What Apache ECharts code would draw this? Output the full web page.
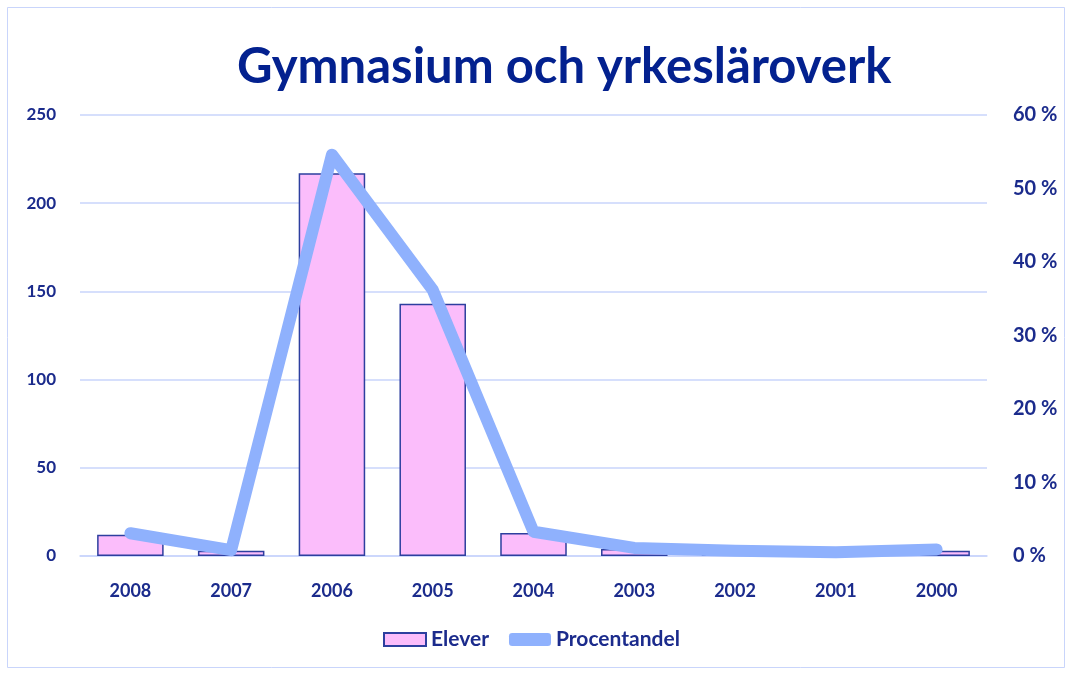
<!DOCTYPE html>
<html>
<head>
<meta charset="utf-8">
<script src="https://cdn.jsdelivr.net/npm/echarts@6/dist/echarts.min.js"></script>
<style>
  html, body { margin: 0; padding: 0; background: #fff; }
  #chart { width: 1073px; height: 673px; }
</style>
</head>
<body>
<div id="chart"></div>
<script>
// Data
const years = ['2008', '2007', '2006', '2005', '2004', '2003', '2002', '2001', '2000']
const elever = [12, 3, 217, 143, 13, 4, 2, 2, 3]
const procentandel = [3.1, 0.8, 54.6, 36.2, 3.3, 1.1, 0.7, 0.5, 0.9]

const navy = '#1b2b8c'
const font = 'Lato'

const chart = echarts.init(document.getElementById('chart'))

chart.setOption({
  backgroundColor: '#fff',
  animation: false,
  textStyle: { fontFamily: font },
  graphic: [{
    type: 'rect',
    shape: { x: 7.5, y: 7.5, width: 1057, height: 660 },
    style: { fill: 'none', stroke: '#c9d5fb', lineWidth: 1 }
  }],
  title: {
    text: 'Gymnasium och yrkesläroverk',
    left: 232, top: 38,
    textStyle: { color: '#03218f', fontSize: 49, fontWeight: 'bold', fontFamily: font }
  },
  legend: {
    bottom: 18, left: 378, itemGap: 20, itemWidth: 42, itemHeight: 13,
    textStyle: { color: navy, fontSize: 21, fontWeight: 'bold', fontFamily: font },
    data: [
      { name: 'Elever', icon: 'rect' },
      { name: 'Procentandel', icon: 'roundRect' }
    ]
  },
  grid: { left: 80, right: 86, top: 115, bottom: 117 },
  xAxis: {
    type: 'category', data: years,
    axisLine: { lineStyle: { color: '#c9d5fb', width: 1.5 } },
    axisTick: { show: false },
    axisLabel: { color: navy, fontSize: 18, fontWeight: 'bold', margin: 26 }
  },
  yAxis: [
    {
      type: 'value', min: 0, max: 250, interval: 50,
      axisLine: { show: false }, axisTick: { show: false },
      axisLabel: { color: navy, fontSize: 17, fontWeight: 'bold', margin: 24 },
      splitLine: { lineStyle: { color: '#c9d5fb', width: 1.5 } }
    },
    {
      type: 'value', min: 0, max: 60, interval: 10,
      axisLine: { show: false }, axisTick: { show: false },
      axisLabel: { color: navy, fontSize: 20, fontWeight: 'bold', margin: 26, formatter: '{value} %' },
      splitLine: { show: false }
    }
  ],
  series: [
    {
      name: 'Elever', type: 'bar', data: elever, barWidth: '66%',
      itemStyle: { color: '#fbbdfb', borderColor: '#2d3f9f', borderWidth: 1.5 }
    },
    {
      name: 'Procentandel', type: 'line', yAxisIndex: 1, data: procentandel,
      symbol: 'none',
      lineStyle: { color: '#8fb1fd', width: 12, cap: 'round', join: 'round' },
      itemStyle: { color: '#8fb1fd' }
    }
  ]
})
</script>
</body>
</html>
